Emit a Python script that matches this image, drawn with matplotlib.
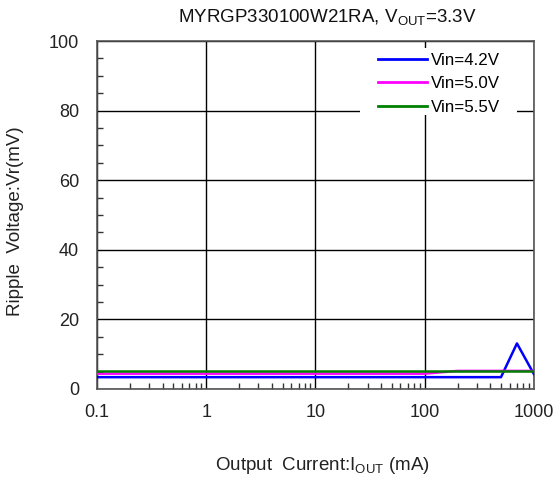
import matplotlib.pyplot as plt
from matplotlib.patches import Rectangle
from matplotlib.ticker import MultipleLocator, LogLocator, FixedLocator

plt.rcParams['font.family'] = ['Liberation Sans', 'DejaVu Sans']
plt.rcParams['mathtext.fontset'] = 'custom'
plt.rcParams['mathtext.rm'] = 'Liberation Sans'
plt.rcParams['mathtext.it'] = 'Liberation Sans'

# data
x_42 = [0.1, 100, 500, 700, 1000]
y_42 = [3.4, 3.4, 3.4, 13.1, 4.3]
x_50 = [0.1, 100, 200, 1000]
y_50 = [4.4, 4.4, 5.2, 5.2]
x_55 = [0.1, 100, 1000]
y_55 = [5.2, 5.2, 5.2]
labels = ['Vin=4.2V', 'Vin=5.0V', 'Vin=5.5V']
colors = ['#0000FF', '#FF00FF', '#008000']
xticks = [0.1, 1, 10, 100, 1000]
xticklabels = ['0.1', '1', '10', '100', '1000']

fig = plt.figure(figsize=(5.53, 4.78), dpi=100)
ax = fig.add_axes([0.1754, 0.1862, 0.790, 0.728])

for xs, ys, lab, c in zip([x_42, x_50, x_55], [y_42, y_50, y_55], labels, colors):
    ax.plot(xs, ys, color=c, lw=1.8, label=lab, zorder=3)

ax.set_xscale('log')
ax.set_xlim(0.1, 1000)
ax.set_ylim(0, 100)
ax.xaxis.set_major_locator(FixedLocator(xticks))
ax.set_xticklabels(xticklabels)
ax.xaxis.set_minor_locator(LogLocator(base=10, subs=range(2, 10)))
ax.yaxis.set_major_locator(MultipleLocator(20))
ax.yaxis.set_minor_locator(MultipleLocator(5))

ax.grid(True, which='major', color='black', lw=1)
ax.tick_params(which='major', length=0, labelsize=13, colors='#222222')
ax.tick_params(axis='x', which='major', pad=11)
ax.tick_params(axis='y', which='major', pad=13)
ax.tick_params(which='minor', direction='in', length=4, width=1, color='#333333')
for s in ax.spines.values():
    s.set_color('#555555')
    s.set_linewidth(1.2)

fig.text(327 / 553, 1 - 17 / 478, r'MYRGP330100W21RA, V$_{\mathrm{OUT}}$=3.3V',
         fontsize=13.5, ha='center', va='center', color='#111111')
fig.text(322 / 553, 1 - 465 / 478, r'Output  Current:I$_{\mathrm{OUT}}$ (mA)',
         fontsize=13.5, ha='center', va='center', color='#222222')
fig.text(16 / 553, 1 - 221 / 478, 'Ripple  Voltage:Vr(mV)', rotation=90,
         fontsize=13.5, ha='center', va='center', color='#222222')

# white block behind the legend, covering the grid
ax.add_patch(Rectangle((0.602, 0.787), 0.359, 0.193, transform=ax.transAxes,
                       facecolor='white', edgecolor='none', zorder=2.5))
leg = ax.legend(loc='upper left', bbox_to_anchor=(0.643, 0.966), fontsize=12.2,
                handlelength=2.9, frameon=False, borderpad=0, borderaxespad=0,
                labelspacing=0.5, handletextpad=0.25)
leg.set_zorder(4)
for line in leg.get_lines():
    line.set_linewidth(2)

fig.savefig('out.png', dpi=100)
